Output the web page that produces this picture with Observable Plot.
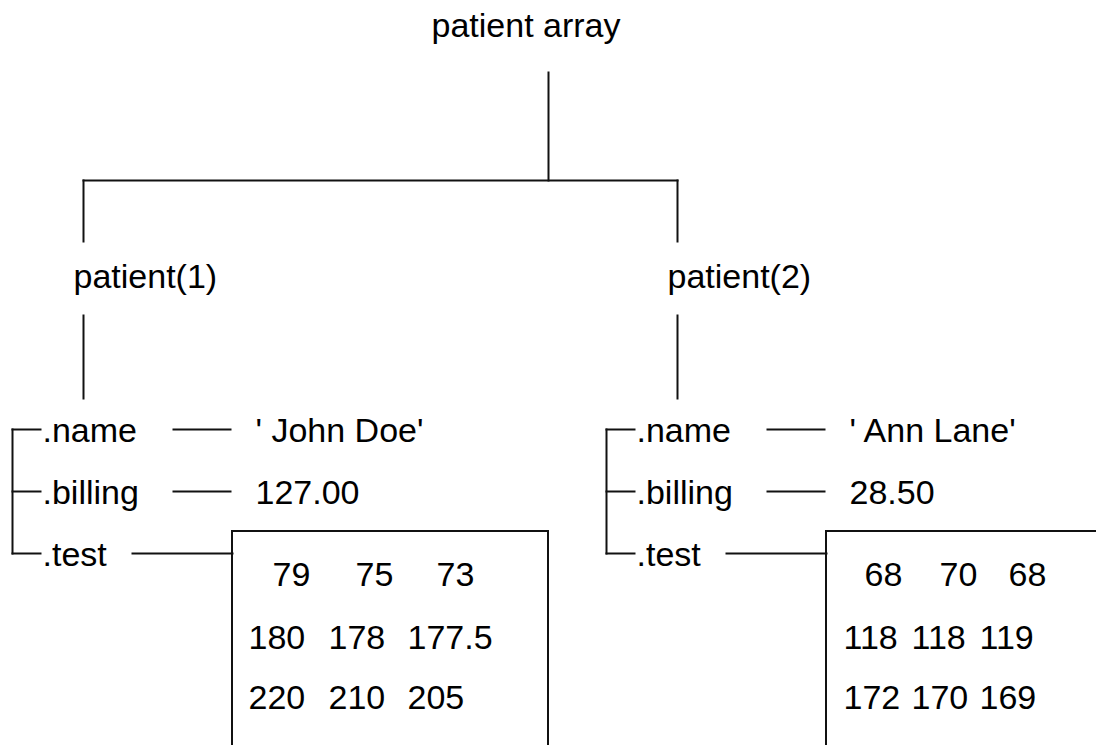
<!DOCTYPE html>
<html>
<head>
<meta charset="utf-8">
<script src="https://cdn.jsdelivr.net/npm/d3@7"></script>
<script src="https://cdn.jsdelivr.net/npm/@observablehq/plot@0.6"></script>
<style>
  html, body { margin: 0; padding: 0; background: #fff; }
  #chart { width: 1096px; height: 745px; overflow: hidden; }
</style>
</head>
<body>
<div id="chart"></div>
<script>
// ---------------- data ----------------
const rootLabel = "patient array";
const patientLabels = ["patient(1)", "patient(2)"];
const fieldNames = [".name", ".billing", ".test"];
const patientNames = ["' John Doe'", "' Ann Lane'"];
const billingValues = ["127.00", "28.50"];
const testValues1 = [[79, 75, 73], [180, 178, 177.5], [220, 210, 205]];
const testValues2 = [[68, 70, 68], [118, 118, 119], [172, 170, 169]];
const testMatrices = [testValues1, testValues2];

// ---------------- layout ----------------
const width = 1096, height = 745;
const L = {
  rootX: 548, rootTextX: 525.5, rootBaseline: 36, rootLineTop: 72, barY: 180,
  branchX: [83, 677], branchBottom: 241, labelDx: -10, labelBaseline: 287,
  stemTop: 315, stemBottom: 398,
  bracketDx: -71, bracketArm: 28, fieldDx: -41,
  fieldBaselines: [441, 503, 565], lineRaise: 12,
  connDx: [[90, 147], [90, 147], [49, 149]],
  valueDx: 172,
  boxDx: 149, boxTop: 531, boxW: 316, boxBottom: 800,
  rowDy: [54, 117, 177],
  colDx: [[16, 96, 175], [17, 85, 153]],
  row1Dx: [[40, 123, 204], [38, 113, 182]]
};

const segs = [];
const texts = [];
const boxes = [];

segs.push({x1: L.rootX, y1: L.rootLineTop, x2: L.rootX, y2: L.barY});
segs.push({x1: L.branchX[0], y1: L.barY, x2: L.branchX[1], y2: L.barY});

patientLabels.forEach((lab, i) => {
  const bx = L.branchX[i];
  segs.push({x1: bx, y1: L.barY, x2: bx, y2: L.branchBottom});
  texts.push({x: bx + L.labelDx, y: L.labelBaseline, text: lab});
  segs.push({x1: bx, y1: L.stemTop, x2: bx, y2: L.stemBottom});
  // bracket
  const bl = bx + L.bracketDx;
  const ys = L.fieldBaselines.map(b => b - L.lineRaise);
  segs.push({x1: bl, y1: ys[0], x2: bl, y2: ys[ys.length - 1]});
  fieldNames.forEach((f, j) => {
    segs.push({x1: bl, y1: ys[j], x2: bl + L.bracketArm, y2: ys[j]});
    texts.push({x: bx + L.fieldDx, y: L.fieldBaselines[j], text: f});
    segs.push({x1: bx + L.connDx[j][0], y1: ys[j], x2: bx + L.connDx[j][1], y2: ys[j]});
  });
  texts.push({x: bx + L.valueDx, y: L.fieldBaselines[0], text: patientNames[i]});
  texts.push({x: bx + L.valueDx, y: L.fieldBaselines[1], text: billingValues[i]});
  // test box
  const boxL = bx + L.boxDx;
  boxes.push({x1: boxL, y1: L.boxTop, x2: boxL + L.boxW, y2: L.boxBottom});
  testMatrices[i].forEach((row, r) => {
    row.forEach((v, c) => {
      const dx = r === 0 ? L.row1Dx[i][c] : L.colDx[i][c];
      texts.push({x: boxL + dx, y: L.boxTop + L.rowDy[r], text: String(v)});
    });
  });
});

const font = "'Liberation Sans', Arial, Helvetica, sans-serif";
const chart = Plot.plot({
  width, height,
  margin: 0,
  x: {domain: [0, width], range: [0, width], axis: null},
  y: {domain: [0, height], range: [0, height], axis: null},
  style: {background: "#fff", fontFamily: font, overflow: "hidden"},
  marks: [
    Plot.rect(boxes, {x1: "x1", y1: "y1", x2: "x2", y2: "y2", fill: "none", stroke: "#111", strokeWidth: 2, clip: true}),
    Plot.link(segs, {x1: "x1", y1: "y1", x2: "x2", y2: "y2", stroke: "#111", strokeWidth: 2, strokeLinecap: "square"}),
    Plot.text(texts, {x: "x", y: "y", text: "text", textAnchor: "start", lineAnchor: "bottom", fontSize: 34, fill: "#000", fontFamily: font}),
    Plot.text([rootLabel], {x: () => L.rootTextX, y: () => L.rootBaseline, text: d => d, textAnchor: "middle", lineAnchor: "bottom", fontSize: 34, fill: "#000", fontFamily: font})
  ]
});
document.getElementById("chart").appendChild(chart);
</script>
</body>
</html>
